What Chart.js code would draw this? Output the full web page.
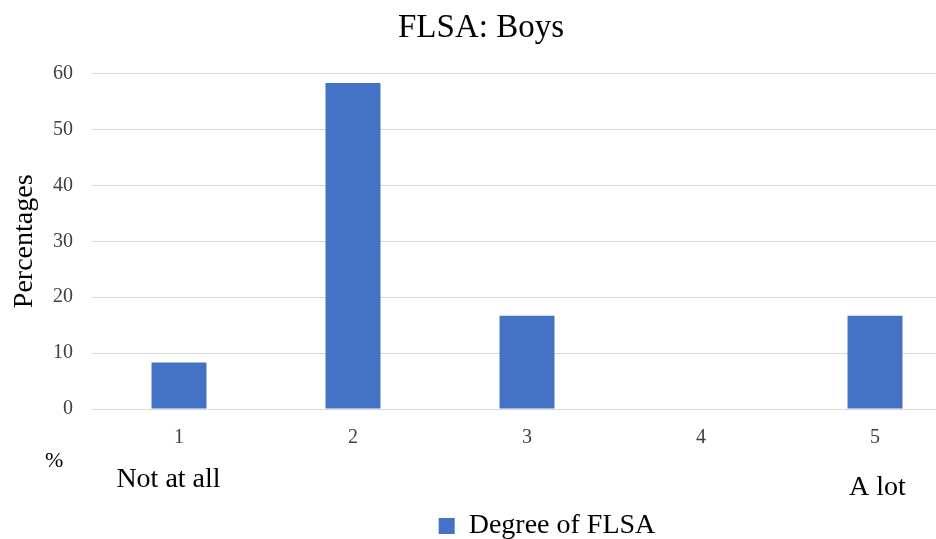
<!DOCTYPE html>
<html>
<head>
<meta charset="utf-8">
<script src="https://cdn.jsdelivr.net/npm/chart.js@4.4.1/dist/chart.umd.min.js"></script>
<style>
  html, body { margin: 0; padding: 0; background: #fff; overflow: hidden; }
  #wrap { width: 962px; height: 539px; position: relative; }
</style>
</head>
<body>
<div id="wrap"><canvas id="flsaChart"></canvas></div>
<script>
// Chart data
const categories = ['1', '2', '3', '4', '5'];
const degreeValues = [8.3, 58.3, 16.7, 0, 16.7];
const yTicks = [0, 10, 20, 30, 40, 50, 60];
const seriesName = 'Degree of FLSA';

const serif = "'Liberation Serif', 'Times New Roman', serif";

// extra notes under the x axis ("%", "Not at all", "A lot")
const axisNotes = {
    id: 'axisNotes',
    afterDraw(chart) {
        const ctx = chart.ctx;
        const x = chart.scales.x;
        ctx.save();
        ctx.fillStyle = '#000';
        ctx.textBaseline = 'middle';
        ctx.font = '22px ' + serif;
        ctx.textAlign = 'left';
        ctx.fillText('%', 45, 461);
        ctx.font = '28px ' + serif;
        ctx.textAlign = 'center';
        ctx.fillText('Not at all', x.getPixelForValue(0) - 10.5, 480);
        ctx.fillText('A lot', x.getPixelForValue(4) + 2.5, 488);
        ctx.restore();
    }
};

// legend sits a bit right of centre in the original
const legendShift = {
    id: 'legendShift',
    afterLayout(chart) {
        const lg = chart.legend;
        lg.left += 66;
        lg.right += 66;
        lg.top += 11;
        lg.bottom += 11;
    }
};

new Chart(document.getElementById('flsaChart').getContext('2d'), {
    type: 'bar',
    data: {
        labels: categories,
        datasets: [{
            label: seriesName,
            data: degreeValues,
            backgroundColor: '#4472C4',
            borderWidth: 0,
            categoryPercentage: 1,
            barPercentage: 0.316
        }]
    },
    options: {
        responsive: true,
        maintainAspectRatio: false,
        animation: false,
        layout: { padding: 0 },
        plugins: {
            title: {
                display: true,
                text: 'FLSA: Boys',
                color: '#000',
                font: { family: serif, size: 33, weight: 'normal' },
                padding: { top: 9, bottom: 25 }
            },
            legend: {
                position: 'bottom',
                labels: {
                    color: '#000',
                    font: { family: serif, size: 28 },
                    boxWidth: 16,
                    boxHeight: 16,
                    padding: 4
                }
            },
            tooltip: { enabled: false }
        },
        scales: {
            x: {
                grid: { display: false, drawTicks: false },
                border: { display: true, color: '#d9d9d9', width: 1 },
                ticks: {
                    color: '#404040',
                    font: { family: serif, size: 20 },
                    padding: 17
                },
                afterFit: (scale) => { scale.height = 88; }
            },
            y: {
                min: 0,
                max: 60,
                afterBuildTicks: (scale) => {
                    scale.ticks = yTicks.map(v => ({ value: v }));
                },
                grid: { color: '#d9d9d9', drawTicks: false },
                border: { display: false },
                ticks: {
                    color: '#404040',
                    font: { family: serif, size: 20 },
                    padding: 19
                },
                title: {
                    display: true,
                    text: 'Percentages',
                    color: '#000',
                    font: { family: serif, size: 28 },
                    padding: { top: 8, bottom: 0 }
                },
                afterFit: (scale) => { scale.width = 92; }
            }
        }
    },
    plugins: [axisNotes, legendShift]
});
</script>
</body>
</html>
